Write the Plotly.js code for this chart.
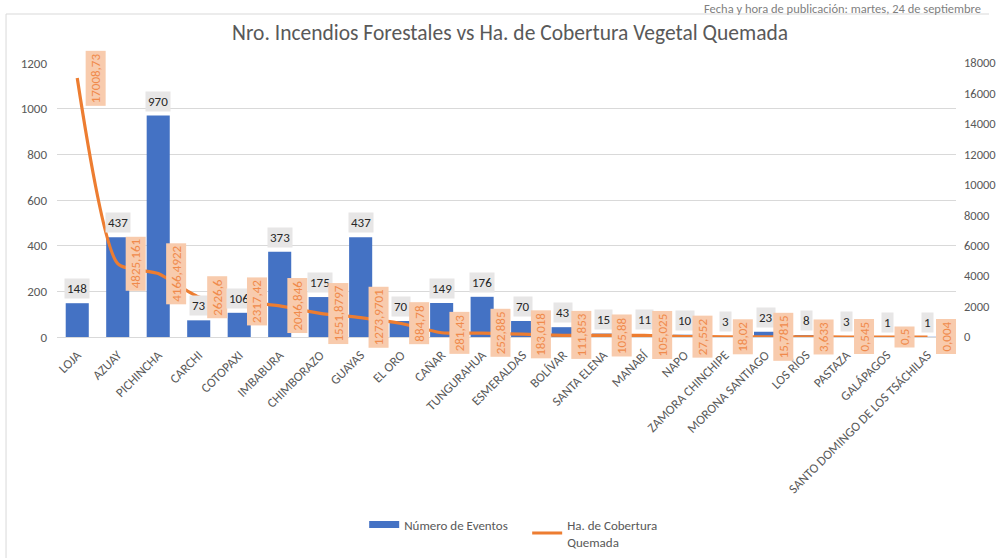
<!DOCTYPE html>
<html>
<head>
<meta charset="utf-8">
<script src="https://cdn.plot.ly/plotly-3.0.1.min.js"></script>
<style>html,body{margin:0;padding:0;background:#fff;}#chart{width:1000px;height:558px;}</style>
</head>
<body>
<div id="chart"></div>
<script>
const provincias = ["LOJA","AZUAY","PICHINCHA","CARCHI","COTOPAXI","IMBABURA","CHIMBORAZO","GUAYAS","EL ORO","CAÑAR","TUNGURAHUA","ESMERALDAS","BOLÍVAR","SANTA ELENA","MANABÍ","NAPO","ZAMORA CHINCHIPE","MORONA SANTIAGO","LOS RÍOS","PASTAZA","GALÁPAGOS","SANTO DOMINGO DE LOS TSÁCHILAS"];
const numeroEventos = [148,437,970,73,106,373,175,437,70,149,176,70,43,15,11,10,3,23,8,3,1,1];
const hectareas = [17008.73,4825.161,4166.4922,2626.6,2317.42,2046.846,1551.8797,1273.9701,884.78,281.43,252.885,183.018,111.853,105.88,105.025,27.552,18.02,15.7815,3.633,0.545,0.5,0.004];
const hectareasTexto = ["17008,73","4825,161","4166,4922","2626,6","2317,42","2046,846","1551,8797","1273,9701","884,78","281,43","252,885","183,018","111,853","105,88","105,025","27,552","18,02","15,7815","3,633","0,545","0,5","0,004"];
const tituloGrafico = "Nro. Incendios Forestales vs Ha. de Cobertura Vegetal Quemada";
const textoFecha = "Fecha y hora de publicación: martes, 24 de septiembre";
const nombreBarras = "Número de Eventos";
const nombreLinea = "Ha. de Cobertura<br>Quemada";

const FONT = "Carlito, Calibri, Lato, 'Open Sans', sans-serif";
const AZUL = "#4472c4", NARANJA = "#ed7d31";

const traces = [
  {type:"bar", name:nombreBarras, x:provincias, y:numeroEventos,
   marker:{color:AZUL}, yaxis:"y", showlegend:false, legendgroup:"b"},
  {type:"scatter", mode:"lines", name:nombreBarras, x:[null], y:[null], yaxis:"y",
   line:{color:AZUL, width:7}, legendgroup:"b", showlegend:true},
  {type:"scatter", mode:"lines", name:nombreLinea, x:provincias, y:hectareas,
   yaxis:"y2", line:{color:NARANJA, width:3.2, shape:"spline", smoothing:0.6}}
];

const annotations = [];
provincias.forEach((p,i)=>{
  annotations.push({x:p, y:numeroEventos[i], xref:"x", yref:"y", text:String(numeroEventos[i]),
    showarrow:false, xanchor:"center", yanchor:"bottom", yshift:4,
    bgcolor:"#e7e6e6", borderpad:2, font:{family:FONT, size:13, color:"#262626"}});
  annotations.push({x:p, y:hectareas[i], xref:"x", yref:"y2", text:hectareasTexto[i],
    showarrow:false, xanchor:"center", yanchor:"middle", xshift:18, textangle:-90,
    bgcolor:"#f8cbad", borderpad:2, font:{family:FONT, size:13, color:"#f08a4b"}});
});
annotations.push({xref:"paper", yref:"paper", x:0.7175, y:1.2007, xanchor:"left", yanchor:"middle",
  text:textoFecha, showarrow:false, font:{family:FONT, size:12.5, color:"#7f7f7f"}});

const layout = {
  width:1000, height:558,
  margin:{l:57, r:44, t:63, b:221, autoexpand:false},
  paper_bgcolor:"#ffffff", plot_bgcolor:"#ffffff",
  font:{family:FONT, color:"#595959"},
  title:{text:tituloGrafico, x:0.504, xref:"paper", xanchor:"center", y:0.941, yref:"container", yanchor:"middle",
    font:{family:FONT, size:21.5, color:"#595959"}},
  bargap:0.43,
  showlegend:true,
  legend:{orientation:"h", x:0.523, xanchor:"center", y:-0.63, yanchor:"top",
    font:{family:FONT, size:13, color:"#595959"}, itemwidth:30, traceorder:"normal",
    entrywidth:118, entrywidthmode:"pixels"},
  xaxis:{type:"category", tickangle:-45, tickfont:{family:FONT, size:13, color:"#595959"},
    showgrid:false, showline:false, ticks:"", automargin:false, ticklabelstandoff:7},
  yaxis:{range:[0,1200], dtick:200, showgrid:true, gridcolor:"#d9d9d9", gridwidth:1,
    zeroline:true, zerolinecolor:"#d9d9d9", zerolinewidth:1, showline:false, ticks:"",
    tickfont:{family:FONT, size:13, color:"#595959"}, automargin:false, ticklabelstandoff:9},
  yaxis2:{range:[0,18000], dtick:2000, tickformat:"d", overlaying:"y", side:"right", showgrid:false, zeroline:false,
    showline:false, ticks:"", tickfont:{family:FONT, size:12.5, color:"#595959"}, automargin:false, ticklabelstandoff:7},
  annotations:annotations,
  shapes:[
    {type:"line", xref:"paper", yref:"paper", x0:-0.0567, x1:1.0367, y0:1.1788, y1:1.1788, line:{color:"#d9d9d9", width:1}},
    {type:"line", xref:"paper", yref:"paper", x0:-0.0567, x1:-0.0567, y0:1.1788, y1:-0.85, line:{color:"#d9d9d9", width:1}}
  ]
};

Plotly.newPlot("chart", traces, layout, {displayModeBar:false, staticPlot:true});
</script>
</body>
</html>
